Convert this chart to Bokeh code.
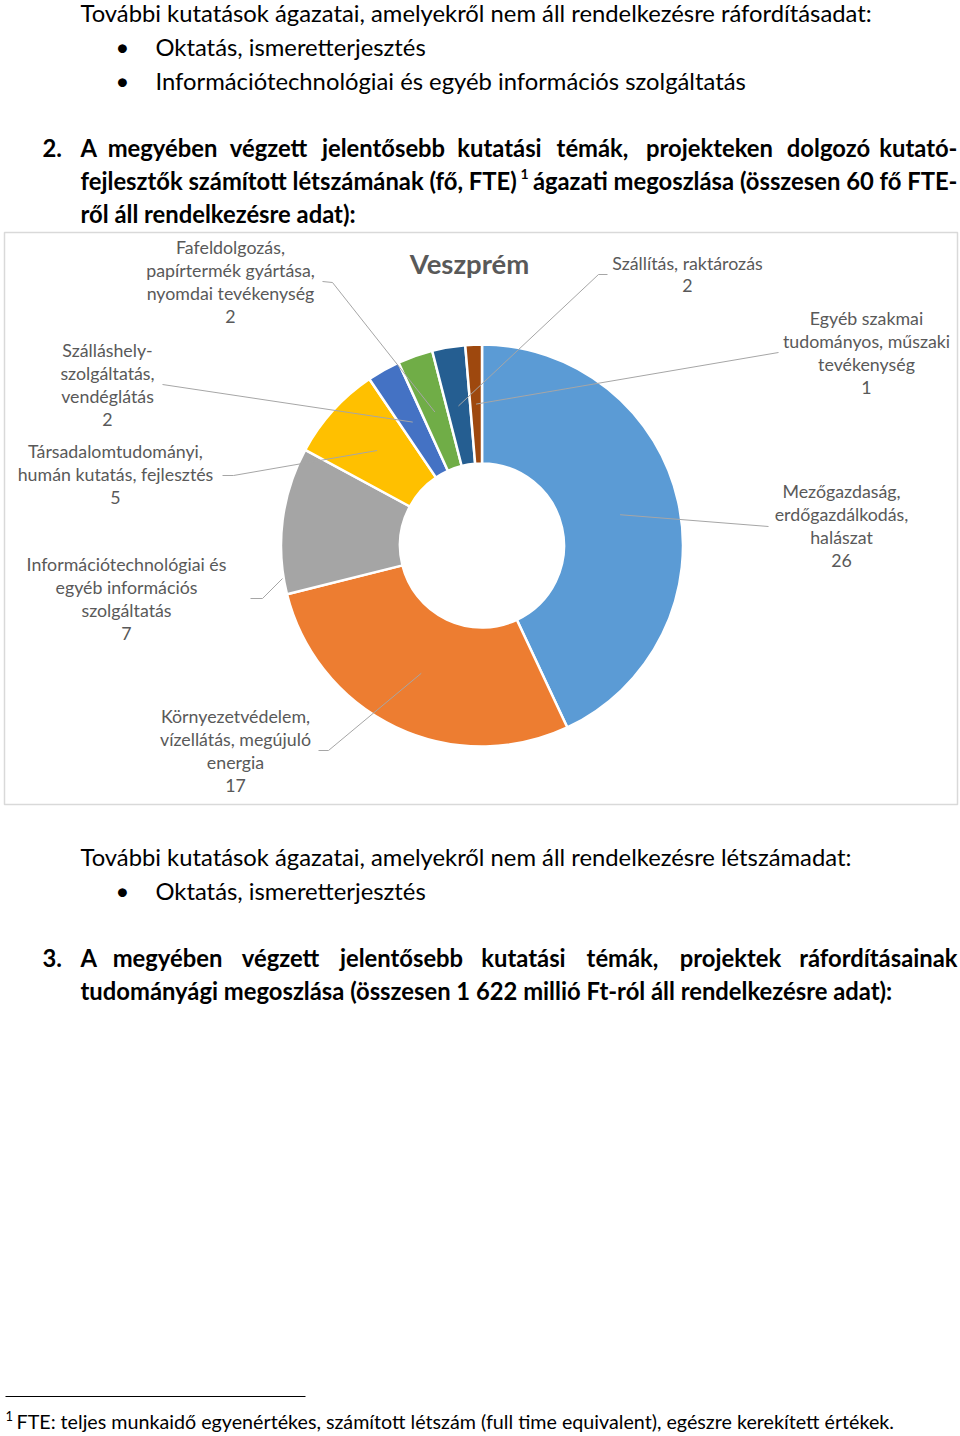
import math
import numpy as np
from bokeh.plotting import figure
from bokeh.models import Range1d, ColumnDataSource
from bokeh.core.properties import value
from bokeh.embed import file_html
from bokeh.resources import INLINE

# ---------------- data ----------------
categories = [
    "Mezőgazdaság,\nerdőgazdálkodás,\nhalászat",
    "Környezetvédelem,\nvízellátás, megújuló\nenergia",
    "Információtechnológiai és\negyéb információs\nszolgáltatás",
    "Társadalomtudományi,\nhumán kutatás, fejlesztés",
    "Szálláshely-\nszolgáltatás,\nvendéglátás",
    "Fafeldolgozás,\npapírtermék gyártása,\nnyomdai tevékenység",
    "Szállítás, raktározás",
    "Egyéb szakmai\ntudományos, műszaki\ntevékenység",
]
values = [25.9, 16.9, 7.1, 4.6, 1.6, 1.7, 1.6, 0.8]
colors = ["#5B9BD5", "#ED7D31", "#A5A5A5", "#FFC000", "#4472C4", "#70AD47", "#255E91", "#9E480E"]
chart_title = "Veszprém"

# ---------------- page geometry ----------------
W, H = 960, 1436
PAGE_H = 1436


def Y(y):
    return PAGE_H - y


p = figure(width=W, height=H, output_backend="svg", toolbar_location=None,
           x_range=Range1d(0, W), y_range=Range1d(0, H),
           min_border=0, background_fill_color="white", border_fill_color="white")
p.axis.visible = False
p.grid.visible = False
p.outline_line_color = None

FONT = "Lato"


def txt(xs, ys, texts, size, bold=False, align="left", color="#000000", baseline="middle"):
    src = ColumnDataSource(dict(x=list(xs), y=[Y(v) for v in ys], t=list(texts)))
    p.text(x="x", y="y", text="t", source=src, text_font=value(FONT),
           text_font_size=f"{size}px", text_font_style="bold" if bold else "normal",
           text_align=align, text_baseline=baseline, text_color=color)


BODY = 23.8
HEAD = 23.8

# ---------------- top text ----------------
txt([80], [12], ["További kutatások ágazatai, amelyekről nem áll rendelkezésre ráfordításadat:"], BODY)
txt([122, 122], [46, 80], ["•", "•"], BODY, align="center")
txt([155, 155], [46, 80], ["Oktatás, ismeretterjesztés",
                            "Információtechnológiai és egyéb információs szolgáltatás"], BODY)


def justified(words, centers, y, size, left=80, right=957):
    txt([left], [y], [words[0]], size, bold=True, align="left")
    txt(centers, [y] * len(centers), words[1:-1], size, bold=True, align="center")
    txt([right], [y], [words[-1]], size, bold=True, align="right")


txt([42], [147], ["2."], HEAD, bold=True)
justified(["A", "megyében", "végzett", "jelentősebb", "kutatási", "témák,", "projekteken", "dolgozó", "kutató-"],
          [162, 268, 383, 499, 592, 709, 828], 147, HEAD)
txt([80], [180], ["fejlesztők számított létszámának (fő, FTE)"], HEAD, bold=True, align="left")
txt([520], [173], ["1"], 14, bold=True)
txt([957], [180], ["ágazati megoszlása (összesen 60 fő FTE-"], HEAD, bold=True, align="right")
txt([80], [213], ["ről áll rendelkezésre adat):"], HEAD, bold=True)

# ---------------- chart frame ----------------
p.quad(left=[4], right=[957], top=[Y(232)], bottom=[Y(804)], fill_color=None,
       line_color="#D9D9D9", line_width=1.5)

txt([469], [263], [chart_title], 27.5, bold=True, align="center", color="#595959")

# donut
CX, CY = 481.5, 545
R_OUT, R_IN = 201, 82
total = sum(values)
cum = np.concatenate([[0], np.cumsum(values)]) / total
start_f = cum[:-1]
end_f = cum[1:]
start_ang = [math.pi / 2 - 2 * math.pi * e for e in end_f]
end_ang = [math.pi / 2 - 2 * math.pi * s for s in start_f]
wsrc = ColumnDataSource(dict(x=[CX] * len(values), y=[Y(CY)] * len(values),
                             sa=start_ang, ea=end_ang, c=colors))
p.annular_wedge(x="x", y="y", inner_radius=R_IN, outer_radius=R_OUT,
                inner_radius_units="screen", outer_radius_units="screen",
                start_angle="sa", end_angle="ea", fill_color="c", line_color="white",
                line_width=2.5, source=wsrc)

# labels (first line centre) and leader starts
label_pos = [(841, 490), (235, 715), (126, 563), (115, 450), (107, 349), (230, 246), (687, 262), (866, 317)]
leader_start = [
    [(768, 526)],
    [(318, 750), (328, 750)],
    [(250, 598), (262, 598)],
    [(222, 475), (233, 475)],
    [(162, 384)],
    [(322, 281), (332, 282)],
    [(607, 274), (598, 274)],
    [(778, 352)],
]
LBL = 17.8
LH = 23.3
for i, cat in enumerate(categories):
    lines = cat.split("\n") + [str(int(round(values[i])))]
    lx, ly = label_pos[i]
    txt([lx] * len(lines), [ly + k * LH for k in range(len(lines))], lines, LBL,
        align="center", color="#595959")
    # leader line to the middle of the ring at the slice's middle angle
    mid = (start_f[i] + end_f[i]) / 2
    th = math.pi / 2 - 2 * math.pi * mid
    rm = (R_OUT + R_IN) / 2
    ex = CX + rm * math.cos(th)
    ey = CY - rm * math.sin(th)
    if i == 2:
        ex, ey = 282, 578
    pts = leader_start[i] + [(ex, ey)]
    p.line([q[0] for q in pts], [Y(q[1]) for q in pts], line_color="#A6A6A6", line_width=1)

# ---------------- lower text ----------------
txt([80], [856], ["További kutatások ágazatai, amelyekről nem áll rendelkezésre létszámadat:"], BODY)
txt([122], [890], ["•"], BODY, align="center")
txt([155], [890], ["Oktatás, ismeretterjesztés"], BODY)

txt([42], [957], ["3."], HEAD, bold=True)
justified(["A", "megyében", "végzett", "jelentősebb", "kutatási", "témák,", "projektek", "ráfordításainak"],
          [167, 280, 401, 523, 622, 730], 957, HEAD)
txt([80], [990], ["tudományági megoszlása (összesen 1 622 millió Ft-ról áll rendelkezésre adat):"], HEAD, bold=True)

# ---------------- footnote ----------------
p.line([5, 305], [Y(1396), Y(1396)], line_color="#000000", line_width=1)
txt([5], [1415], ["1"], 13)
txt([16], [1421], ["FTE: teljes munkaidő egyenértékes, számított létszám (full time equivalent), egészre kerekített értékek."], 19.7)

open("out.html", "w").write(file_html(p, INLINE))
